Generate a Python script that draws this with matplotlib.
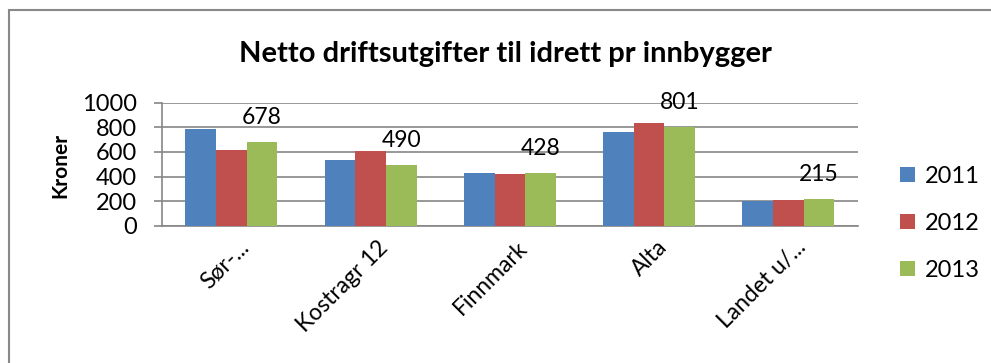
import matplotlib.pyplot as plt
import matplotlib.transforms as mtransforms
import numpy as np
from matplotlib.patches import Rectangle

plt.rcParams['font.family'] = ['Lato', 'DejaVu Sans']

steder = ['Sør-...', 'Kostragr 12', 'Finnmark', 'Alta', 'Landet u/...']
aar = ['2011', '2012', '2013']
v2011 = [786, 537, 430, 759, 203]
v2012 = [613, 610, 420, 835, 209]
v2013 = [678, 490, 428, 801, 215]
farger = ['#4F81BD', '#C0504D', '#9BBB59']

fig = plt.figure(figsize=(9.91, 3.63), dpi=100)
ax = fig.add_axes([0.1632, 0.3782, 0.7026, 0.3389])

x = np.arange(len(steder))
b = 0.22
serier = [v2011, v2012, v2013]
for i, (verdier, navn, farge) in enumerate(zip(serier, aar, farger)):
    ax.bar(x + (i - 1) * b, verdier, b, color=farge, label=navn, zorder=3)

# bare 2013 har verdietiketter
for xi, v in zip(x, v2013):
    ax.annotate(str(v), (xi + b, v), xytext=(0, 18), textcoords='offset points',
                ha='center', va='center', fontsize=16.5)

ax.set_xlim(-0.5, len(steder) - 0.5)
ax.set_ylim(0, 1000)
ax.set_yticks(range(0, 1001, 200))
ax.grid(axis='y', color='#868686', linewidth=1.2, zorder=0)
ax.set_xticks(x)
ax.set_xticklabels(steder, rotation=45, ha='right', rotation_mode='anchor', fontsize=16.5)
ax.tick_params(axis='x', length=0, pad=8)
flytt = mtransforms.ScaledTranslation(7 / 100, 0, fig.dpi_scale_trans)
for lbl in ax.get_xticklabels():
    lbl.set_transform(lbl.get_transform() + flytt)
ax.tick_params(axis='y', length=6, color='#868686', width=1.2, labelsize=17, pad=12)
for s in ['top', 'right']:
    ax.spines[s].set_visible(False)
ax.spines['left'].set_color('#868686')
ax.spines['bottom'].set_color('#868686')
ax.spines['left'].set_linewidth(1.2)
ax.spines['bottom'].set_linewidth(1.2)

fig.text(60 / 991, 1 - 165 / 363, 'Kroner', rotation=90, ha='center', va='center',
         fontsize=15, fontweight='bold')
fig.text(505 / 991, 1 - 54 / 363, 'Netto driftsutgifter til idrett pr innbygger',
         ha='center', va='center', fontsize=21, fontweight='bold')

ax.legend(loc='center left', bbox_to_anchor=(1.03, 0.02), frameon=False, fontsize=17,
          handlelength=0.65, handleheight=0.65, handletextpad=0.4, labelspacing=1.1)

# ramme rundt hele diagrammet
fig.patches.append(Rectangle((9 / 991, -0.1), 1.1, 1 - 10 / 363 + 0.1,
                             transform=fig.transFigure, fill=False,
                             edgecolor='#888888', linewidth=1.5))

fig.savefig('out.png', dpi=100)
